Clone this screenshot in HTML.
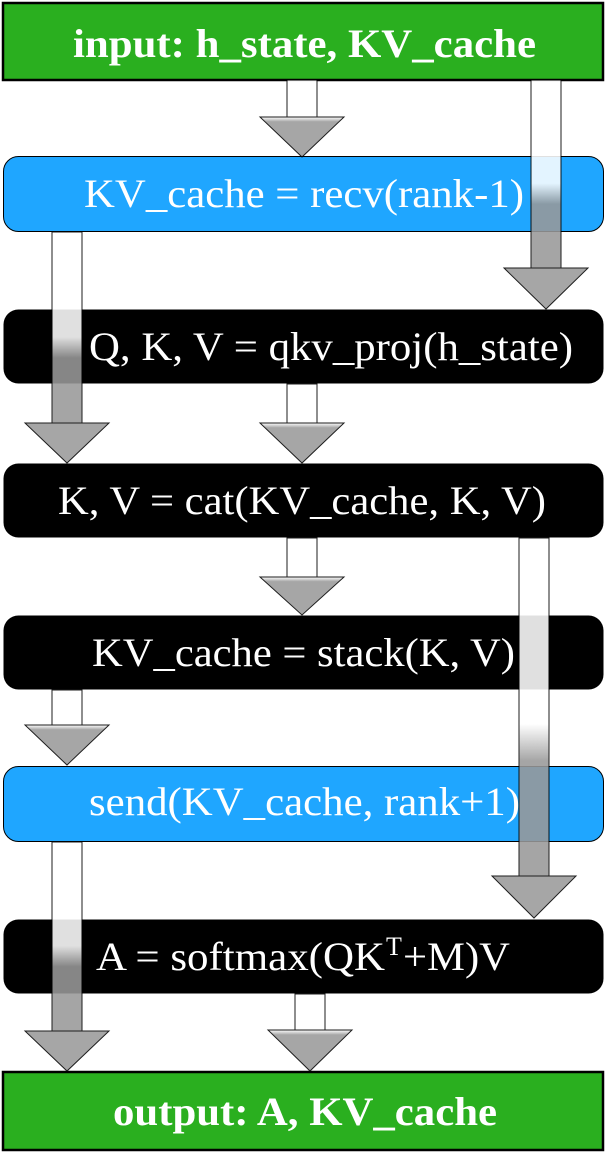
<!DOCTYPE html>
<html><head><meta charset="utf-8"><style>
html,body{margin:0;padding:0;background:#fff;}
svg{display:block;}
text{font-family:"Liberation Serif",serif;fill:#fff;}
</style></head><body>
<svg width="606" height="1153" viewBox="0 0 606 1153" xmlns="http://www.w3.org/2000/svg">
<defs>
<linearGradient id="sh" x1="0" y1="0" x2="0" y2="1">
<stop offset="0" stop-color="#fff"/><stop offset="0.55" stop-color="#fff"/><stop offset="0.66" stop-color="#999"/><stop offset="1" stop-color="#999"/>
</linearGradient>
<linearGradient id="hd" x1="0" y1="0" x2="0" y2="1">
<stop offset="0" stop-color="#fff"/><stop offset="0.12" stop-color="#9a9a9a"/><stop offset="1" stop-color="#9a9a9a"/>
</linearGradient>
</defs>
<!-- boxes -->
<rect x="3" y="3" width="600" height="77" fill="#2aaf1f" stroke="#000" stroke-width="2.5"/>
<text x="73" y="57" font-size="40" font-weight="bold" textLength="463" lengthAdjust="spacingAndGlyphs">input: h_state, KV_cache</text>
<rect x="3.5" y="156.5" width="600" height="75" rx="15" fill="#1fa6ff" stroke="#000" stroke-width="1"/>
<text x="84" y="207" font-size="40" textLength="440" lengthAdjust="spacingAndGlyphs">KV_cache = recv(rank-1)</text>
<rect x="3.5" y="309.5" width="600" height="74" rx="15" fill="#000"/>
<text x="89" y="360" font-size="40" textLength="484" lengthAdjust="spacingAndGlyphs">Q, K, V = qkv_proj(h_state)</text>
<rect x="3.5" y="463.5" width="600" height="74" rx="15" fill="#000"/>
<text x="58" y="514" font-size="40" textLength="488" lengthAdjust="spacingAndGlyphs">K, V = cat(KV_cache, K, V)</text>
<rect x="3.5" y="615.5" width="600" height="74" rx="15" fill="#000"/>
<text x="92" y="666" font-size="40" textLength="423" lengthAdjust="spacingAndGlyphs">KV_cache = stack(K, V)</text>
<rect x="3.5" y="766.5" width="600" height="75" rx="15" fill="#1fa6ff" stroke="#000" stroke-width="1"/>
<text x="89" y="815" font-size="40" textLength="431" lengthAdjust="spacingAndGlyphs">send(KV_cache, rank+1)</text>
<rect x="3.5" y="919.5" width="600" height="74" rx="15" fill="#000"/>
<text x="96" y="970" font-size="40" textLength="289" lengthAdjust="spacingAndGlyphs">A = softmax(QK</text>
<text x="386" y="955" font-size="26">T</text>
<text x="403" y="970" font-size="40" textLength="107" lengthAdjust="spacingAndGlyphs">+M)V</text>
<rect x="3" y="1072" width="600" height="78" fill="#2aaf1f" stroke="#000" stroke-width="2.5"/>
<text x="113" y="1125" font-size="40" font-weight="bold" textLength="384" lengthAdjust="spacingAndGlyphs">output: A, KV_cache</text>
<!-- arrows -->
<g stroke="#000" stroke-width="1" opacity="0.88">
<rect x="287" y="80" width="30" height="37" fill="#fff"/>
<polygon points="260,117 344,117 302,157" fill="url(#hd)"/>
<rect x="531" y="80" width="30" height="188" fill="url(#sh)"/>
<polygon points="504,268 588,268 546,309" fill="#9a9a9a"/>
<rect x="52" y="232" width="30" height="191" fill="url(#sh)"/>
<polygon points="25,423 109,423 67,463" fill="#9a9a9a"/>
<rect x="287" y="384" width="30" height="39" fill="#fff"/>
<polygon points="260,423 344,423 302,463" fill="url(#hd)"/>
<rect x="287" y="538" width="30" height="39" fill="#fff"/>
<polygon points="260,577 344,577 302,615" fill="url(#hd)"/>
<rect x="519" y="538" width="30" height="338" fill="url(#sh)"/>
<polygon points="492,876 576,876 534,918" fill="#9a9a9a"/>
<rect x="52" y="690" width="30" height="35" fill="#fff"/>
<polygon points="25,725 109,725 67,765" fill="url(#hd)"/>
<rect x="52" y="842" width="30" height="189" fill="url(#sh)"/>
<polygon points="25,1031 109,1031 67,1071" fill="#9a9a9a"/>
<rect x="295" y="994" width="30" height="36" fill="#fff"/>
<polygon points="268,1030 352,1030 310,1071" fill="url(#hd)"/>
</g>
</svg>
</body></html>
